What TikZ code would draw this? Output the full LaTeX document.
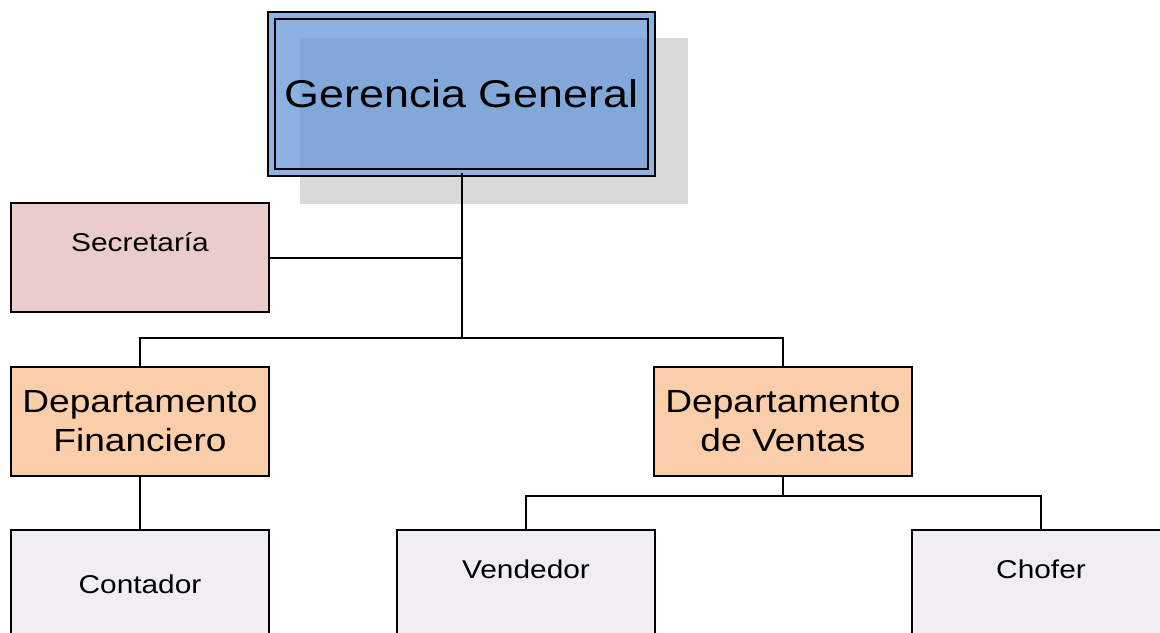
\documentclass[tikz,border=0pt]{standalone}
\usepackage{fontspec}
\setmainfont[FakeStretch=1.16]{Liberation Sans}
\usepackage{tikz}
\usepackage{color}
\definecolor{gerblue}{RGB}{100,151,217}
\definecolor{gergap}{RGB}{141,178,227}
\definecolor{shadowgray}{RGB}{217,217,217}
\definecolor{secpink}{RGB}{234,204,204}
\definecolor{deporange}{RGB}{250,206,168}
\definecolor{staffgray}{RGB}{240,238,243}

\begin{document}
\begin{tikzpicture}[x=0.75pt,y=-0.75pt,every text node part/.style={align=center},
box/.style={draw,line width=1.5pt,inner sep=0pt,minimum width=193.5pt,minimum height=81.75pt,font=\fontsize{19.3}{23}\selectfont},
topbox/.style={box,text height=36pt,text depth=45.75pt},
depbox/.style={box,fill=deporange,font=\fontsize{24}{29}\selectfont},
link/.style={line width=1.5pt}]
\useasboundingbox (0,0) rectangle (1160,632);
\clip (0,0) rectangle (1160,632);
\fill[shadowgray] (300,38) rectangle (688,204);
\node (ger) [draw,line width=1.2pt,double=gergap,double distance=4pt,fill=gerblue,fill opacity=0.74,text opacity=1,minimum width=285pt,minimum height=118pt,font=\fontsize{29}{35}\selectfont] at (461.5,94) {Gerencia General};
\node (sec) [topbox,fill=secpink] at (140,257.5) {Secretaría};
\node (dfin) [depbox] at (140,421) {Departamento\\Financiero};
\node (dven) [depbox] at (783,421) {Departamento\\de Ventas};
\node (cont) [box,fill=staffgray] at (140,584.5) {Contador};
\node (vend) [topbox,fill=staffgray] at (526,584.5) {Vendedor};
\node (chof) [topbox,fill=staffgray] at (1041,584.5) {Chofer};
\coordinate (bus) at (461.5,338);
\coordinate (vbus) at (783,496);
\draw[link] (ger.south) -- (bus);
\draw[link] (sec.east) -- (sec.east -| bus);
\draw[link] (dfin.north) |- (bus) -| (dven.north);
\draw[link] (dfin.south) -- (cont.north);
\draw[link] (dven.south) -- (vbus);
\draw[link] (vend.north) |- (vbus) -| (chof.north);
\end{tikzpicture}
\end{document}
